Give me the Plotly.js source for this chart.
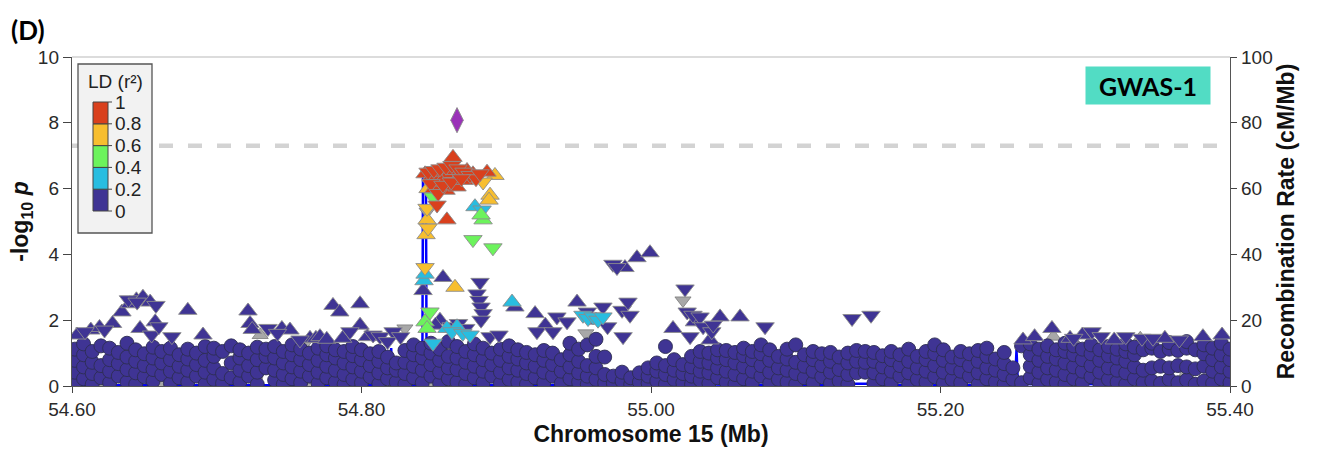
<!DOCTYPE html>
<html>
<head>
<meta charset="utf-8">
<script src="https://cdn.plot.ly/plotly-3.0.1.min.js"></script>
<style>
  html, body { margin: 0; padding: 0; background: #ffffff; }
  #chart { width: 1317px; height: 451px; }
</style>
</head>
<body>
<div id="chart"></div>
<script>
// ---- Regional association at chromosome 15, 54.60-55.40 Mb ----

// x axis ticks (Mb)
const xTicks = [54.60, 54.80, 55.00, 55.20, 55.40];
// LD colour key
const ldBreaks = [0, 0.2, 0.4, 0.6, 0.8, 1];
const ldTickLabels = ['0', '0.2', '0.4', '0.6', '0.8', '1'];
const ldColors = ['#3f3494', '#28bde0', '#6cf35c', '#f7be2f', '#d9401d'];
// r² assigned to each LD bin below
const ldBinR2 = [0.1, 0.3, 0.5, 0.7, 0.9];

// genome-wide significance, -log10(5e-8)
const gwsLine = 7.3;

// lead SNP
const leadPos = [54.866];
const leadLogP = [8.08];

// SNPs with r² < 0.2 plotted as circles: [position, [-log10 p, ...]]
const ld0Circles = [
  [54.602, [0.08, 0.42, 0.78, 1.12]], [54.608, [0.22, 0.58, 0.95, 1.28]],
  [54.614, [0.05, 0.38, 0.72, 1.05]], [54.620, [0.25, 0.62, 1.22]],
  [54.626, [0.10, 0.45, 0.80, 1.15]], [54.632, [0.30, 0.68, 1.02]],
  [54.638, [0.12, 0.50, 0.88, 1.30]], [54.644, [0.05, 0.40, 0.75, 1.10]],
  [54.650, [0.28, 0.62, 0.98]], [54.656, [0.15, 0.50, 0.85, 1.18]],
  [54.662, [0.35, 0.70, 1.05]], [54.668, [0.08, 0.45, 0.80, 1.15]],
  [54.674, [0.25, 0.60, 0.95]], [54.680, [0.12, 0.48, 0.82, 1.12]],
  [54.686, [0.30, 0.65, 1.00]], [54.692, [0.05, 0.42, 0.78, 1.20]],
  [54.698, [0.20, 0.55, 0.90, 1.15]], [54.704, [0.08, 0.38, 1.05]],
  [54.710, [0.25, 0.70, 1.22]], [54.716, [0.12, 0.48, 0.85, 1.10]],
  [54.722, [0.30, 0.62, 1.00]], [54.728, [0.05, 0.42, 0.80, 1.18]],
  [54.734, [0.55, 0.90, 1.12]], [54.740, [0.18, 0.48, 0.85, 1.20]],
  [54.746, [0.05, 0.35, 0.70, 1.05]], [54.752, [0.22, 0.58, 0.95, 1.25]],
  [54.758, [0.10, 0.45, 0.80, 1.12]], [54.764, [0.30, 0.65, 1.00]],
  [54.770, [0.08, 0.42, 0.78, 1.15]], [54.776, [0.25, 0.60, 0.95, 1.22]],
  [54.782, [0.12, 0.48, 0.85, 1.10]], [54.788, [0.05, 0.35, 0.70, 1.05]],
  [54.794, [0.20, 0.58, 0.92, 1.20]], [54.800, [0.10, 0.45, 0.80, 1.10]],
  [54.806, [0.28, 0.62, 0.98]], [54.812, [0.06, 0.40, 0.75, 1.05]],
  [54.818, [0.22, 0.55, 0.88]], [54.824, [0.12, 0.48, 0.70]],
  [54.830, [0.05, 0.38, 0.72, 1.08]], [54.836, [0.25, 0.60, 0.95, 1.25]],
  [54.842, [0.10, 0.48, 0.85, 1.15]], [54.848, [0.30, 0.65, 1.00, 1.30]],
  [54.854, [0.08, 0.42, 0.78, 1.12]], [54.860, [0.22, 0.55, 0.90, 1.35]],
  [54.866, [0.12, 0.50, 0.85, 1.20]], [54.872, [0.05, 0.38, 0.72, 1.05]],
  [54.878, [0.25, 0.60, 0.95, 1.28]], [54.884, [0.10, 0.45, 0.80, 1.15]],
  [54.890, [0.30, 0.65, 1.00]], [54.896, [0.08, 0.42, 0.78, 1.12]],
  [54.902, [0.20, 0.55, 0.90, 1.22]], [54.908, [0.12, 0.48, 0.82, 1.10]],
  [54.914, [0.05, 0.38, 0.70, 1.02]], [54.920, [0.25, 0.60, 0.95]],
  [54.926, [0.10, 0.42, 0.78, 1.08]], [54.932, [0.30, 0.65, 1.00]],
  [54.938, [0.08, 0.45, 0.80]], [54.944, [0.22, 0.58, 0.95, 1.30]],
  [54.950, [0.12, 0.40, 0.75, 1.12]], [54.956, [0.05, 0.30, 0.62, 1.25]],
  [54.962, [0.20, 0.55, 0.90, 1.42]], [54.968, [0.10, 0.35, 0.88]],
  [54.974, [0.08, 0.30]], [54.980, [0.15, 0.42]],
  [54.986, [0.05, 0.25]], [54.992, [0.12, 0.40]],
  [54.998, [0.08, 0.30, 0.55]], [55.004, [0.15, 0.45, 0.70]],
  [55.010, [0.05, 0.35, 0.62, 1.20]], [55.016, [0.20, 0.48, 0.80]],
  [55.022, [0.10, 0.38, 0.65]], [55.028, [0.05, 0.30, 0.58, 0.90]],
  [55.034, [0.18, 0.45, 0.75, 1.05]], [55.040, [0.08, 0.40, 0.70, 1.00]],
  [55.046, [0.25, 0.55, 0.85, 1.10]], [55.052, [0.12, 0.45, 0.80, 1.08]],
  [55.058, [0.05, 0.35, 0.70, 1.02]], [55.064, [0.22, 0.58, 0.92, 1.15]],
  [55.070, [0.10, 0.45, 0.80, 1.05]], [55.076, [0.30, 0.62, 0.98, 1.25]],
  [55.082, [0.08, 0.42, 0.78, 1.10]], [55.088, [0.20, 0.55, 0.90]],
  [55.094, [0.12, 0.48, 0.82, 1.12]], [55.100, [0.05, 0.38, 0.72, 1.25]],
  [55.106, [0.25, 0.60, 0.95]], [55.112, [0.10, 0.45, 0.80, 1.05]],
  [55.118, [0.28, 0.62, 0.98]], [55.124, [0.08, 0.42, 0.75, 1.02]],
  [55.130, [0.15, 0.50, 0.88]], [55.136, [0.05, 0.35, 0.70, 1.00]],
  [55.142, [0.40, 0.75, 1.08]], [55.148, [0.42, 0.72, 1.05]],
  [55.154, [0.08, 0.40, 0.75, 1.02]], [55.160, [0.22, 0.58, 0.92]],
  [55.166, [0.10, 0.45, 0.80, 1.05]], [55.172, [0.30, 0.62, 0.95]],
  [55.178, [0.05, 0.40, 0.75, 1.12]], [55.184, [0.20, 0.55, 0.90]],
  [55.190, [0.12, 0.45, 0.80, 1.05]], [55.196, [0.28, 0.62, 0.98, 1.25]],
  [55.202, [0.08, 0.42, 0.78, 1.10]], [55.208, [0.20, 0.55, 0.88]],
  [55.214, [0.10, 0.45, 0.80, 1.05]], [55.220, [0.30, 0.62, 0.98]],
  [55.226, [0.05, 0.40, 0.75, 1.08]], [55.232, [0.22, 0.55, 0.90, 1.15]],
  [55.238, [0.12, 0.48, 0.82]], [55.244, [0.05, 0.35, 0.68, 1.02]],
  [55.250, [0.20, 0.55]], [55.256, [0.10, 1.22]],
  [55.262, [0.25, 0.60, 0.95, 1.28]], [55.268, [0.08, 0.42, 0.78, 1.12]],
  [55.274, [0.20, 0.55, 0.90, 1.22]], [55.280, [0.12, 0.48, 0.82, 1.10]],
  [55.286, [0.05, 0.35, 0.70, 1.05, 1.30]], [55.292, [0.22, 0.58, 0.95, 1.22]],
  [55.298, [0.10, 0.45, 0.80, 1.12]], [55.304, [0.28, 0.62, 0.98, 1.25]],
  [55.310, [0.08, 0.42, 0.78, 1.10]], [55.316, [0.20, 0.55, 0.92, 1.20]],
  [55.322, [0.12, 0.48, 0.85, 1.12]], [55.328, [0.05, 0.40, 0.75, 1.05, 1.28]],
  [55.334, [0.22, 0.58, 0.95, 1.18]], [55.340, [0.10, 0.48, 1.10]],
  [55.346, [0.15, 0.55, 1.15, 1.30]], [55.352, [0.08, 0.60, 1.05]],
  [55.358, [0.20, 0.55, 1.12, 1.32]], [55.364, [0.10, 0.62, 1.08]],
  [55.370, [0.18, 0.58, 1.15, 1.35]], [55.376, [0.05, 0.52, 1.10]],
  [55.382, [0.15, 0.60, 0.98, 1.25]], [55.388, [0.08, 0.45, 0.80, 1.15]],
  [55.394, [0.22, 0.58, 0.95, 1.30]], [55.400, [0.10, 0.45, 0.80, 1.12]]
];

// triangles: up = positive effect, down = negative effect; [position, -log10 p]
const ld0Up = [
  [54.6035, 1.55], [54.613, 1.70], [54.619, 1.78], [54.628, 1.90], [54.6345, 2.25],
  [54.640, 2.50], [54.6445, 2.62], [54.649, 2.70], [54.654, 2.55], [54.647, 1.75],
  [54.6575, 1.95], [54.680, 2.30], [54.6905, 1.55], [54.7216, 2.28], [54.723, 1.90],
  [54.7245, 1.72], [54.745, 1.75], [54.7506, 1.70], [54.7644, 1.45], [54.7685, 1.45],
  [54.7713, 1.50], [54.776, 1.42], [54.7803, 2.45], [54.785, 2.25], [54.787, 1.45],
  [54.799, 2.50], [54.799, 1.85], [54.804, 1.50],
  [54.8425, 2.90], [54.8563, 3.30], [54.8542, 2.00], [54.8511, 1.85], [54.906, 2.40],
  [54.9199, 2.20], [54.9270, 1.85], [54.9489, 2.55], [54.9620, 2.00], [54.9820, 3.60],
  [54.9903, 3.90], [54.9993, 4.05], [55.0152, 1.75], [55.0300, 1.95], [55.0408, 1.40],
  [55.0477, 2.10], [55.0615, 2.10],
  [55.257, 1.40], [55.265, 1.50], [55.277, 1.75], [55.2895, 1.45], [55.298, 1.55],
  [55.320, 1.40], [55.355, 1.45], [55.3813, 1.50], [55.3945, 1.55]
];
const ld0Down = [
  [54.609, 1.65], [54.6225, 1.70], [54.639, 2.62], [54.645, 2.55], [54.658, 2.45],
  [54.655, 1.55], [54.669, 1.50], [54.660, 1.80], [54.7354, 1.75], [54.742, 1.60],
  [54.7575, 1.40], [54.792, 1.65], [54.808, 1.55], [54.8128, 1.50], [54.8218, 1.65],
  [54.818, 1.35], [54.827, 1.50],
  [54.8819, 3.15], [54.8798, 2.80], [54.8812, 2.60], [54.8826, 2.40], [54.884, 2.20],
  [54.8826, 2.00], [54.862, 1.80], [54.867, 1.90], [54.872, 1.75], [54.8888, 1.50],
  [54.895, 1.55], [54.9212, 1.65], [54.9323, 1.65], [54.935, 2.10], [54.942, 1.95],
  [54.956, 2.25], [54.9668, 2.40], [54.970, 1.80], [54.9737, 3.70], [54.9765, 3.60],
  [54.980, 2.30], [54.9807, 1.50], [54.9841, 2.55], [54.9855, 2.15],
  [55.0235, 2.95], [55.025, 2.25], [55.027, 1.50], [55.029, 2.15], [55.0339, 2.10],
  [55.036, 1.80], [55.042, 1.65], [55.043, 1.85], [55.0788, 1.80], [55.1389, 2.05],
  [55.152, 2.15],
  [55.292, 1.45], [55.3047, 1.65], [55.311, 1.50], [55.328, 1.50], [55.3392, 1.45],
  [55.3468, 1.45], [55.365, 1.40]
];
// 0.2 <= r² < 0.4
const ld1Up = [[54.8784, 5.45], [54.8432, 3.20], [54.8439, 3.40], [54.904, 2.55], [54.859, 1.75], [54.866, 1.80]];
const ld1Down = [
  [54.8833, 5.35], [54.8494, 1.30], [54.8625, 1.65], [54.870, 1.60], [54.875, 1.55],
  [54.953, 2.15], [54.9565, 2.05], [54.960, 2.10], [54.9634, 2.00], [54.9668, 2.10]
];
// 0.4 <= r² < 0.6
const ld2Up = [[54.884, 5.05], [54.8826, 5.20], [54.8439, 1.95], [54.8453, 1.75]];
const ld2Down = [[54.8494, 5.75], [54.877, 4.45], [54.8908, 4.20], [54.8473, 2.25]];
// 0.6 <= r² < 0.8
const ld3Up = [[54.8922, 6.40], [54.8888, 5.80], [54.8881, 5.65], [54.8453, 5.05], [54.8446, 4.60], [54.8646, 3.00], [54.846, 6.00]];
const ld3Down = [[54.884, 6.20], [54.846, 4.80], [54.8439, 3.60], [54.8453, 5.40]];
// r² >= 0.8
const ld4Up = [
  [54.8632, 6.95], [54.8439, 6.45], [54.848, 6.35], [54.8522, 6.40], [54.8563, 6.50],
  [54.8604, 6.45], [54.8646, 6.55], [54.8687, 6.45], [54.8729, 6.55], [54.877, 6.45],
  [54.8867, 6.50], [54.859, 5.05], [54.850, 6.00], [54.8584, 5.95], [54.866, 6.05],
  [54.871, 6.25], [54.855, 6.20]
];
const ld4Down = [
  [54.846, 6.50], [54.850, 6.55], [54.8542, 6.60], [54.8584, 6.65], [54.8625, 6.70],
  [54.8667, 6.60], [54.8708, 6.50], [54.875, 6.40], [54.8791, 6.30], [54.8819, 6.45],
  [54.848, 6.15], [54.853, 5.85], [54.8563, 6.10], [54.862, 6.20], [54.869, 6.30],
  [54.8522, 5.50]
];

// SNPs without LD information
const noLdCircles = [
  [54.618, 0.15], [54.648, 0.60], [54.660, 0.05], [54.716, 0.90], [54.727, 0.30],
  [54.763, 0.10], [54.800, 0.20], [54.818, 0.15], [54.848, 0.20], [54.860, 0.10],
  [54.875, 0.75], [54.945, 0.50], [54.990, 0.20], [55.008, 0.10], [55.050, 0.50],
  [55.060, 0.80], [55.110, 0.65], [55.190, 0.10], [55.205, 0.35], [55.240, 0.70],
  [55.268, 0.45], [55.290, 0.90], [55.310, 0.15], [55.370, 0.30], [55.395, 0.20],
  [55.398, 1.10]
];
const noLdUp = [[54.730, 1.55], [55.278, 1.50], [55.338, 1.45]];
const noLdDown = [[54.830, 1.75], [54.8453, 5.30], [55.0221, 2.60], [54.955, 1.60], [54.762, 1.35]];

// recombination rate (cM/Mb)
const recombPos = [
  54.600, 54.650, 54.700, 54.750, 54.800, 54.8195, 54.8205, 54.8215, 54.842, 54.8425,
  54.8445, 54.845, 54.864, 54.8648, 54.8656, 54.900, 54.950, 55.000, 55.030, 55.050,
  55.130, 55.140, 55.150, 55.160, 55.2515, 55.2525, 55.2535, 55.280, 55.330, 55.360,
  55.3975, 55.398, 55.400
];
const recombRate = [
  0.2, 0.15, 0.25, 0.2, 0.3, 0.3, 11.5, 0.4, 0.4, 65,
  65, 0.3, 0.3, 11, 0.3, 0.25, 0.3, 0.5, 0.6, 0.4,
  0.3, 0.7, 0.7, 0.3, 0.4, 11, 0.6, 0.5, 0.6, 0.7,
  0.5, 11, 11
];

// ---------- build traces ----------
const AXIS_FONT = 'Liberation Sans, Arial, sans-serif';
const LABEL_FONT = 'Lato, Carlito, Calibri, sans-serif';
const GRAY = '#a8a8a8';

// discrete colour scale from the LD bins
const ldScale = [];
ldColors.forEach((c, i) => {
  ldScale.push([ldBreaks[i], c]);
  ldScale.push([ldBreaks[i + 1], c]);
});

const pts = { x: [], y: [], c: [], sym: [], line: [] };
function addPoints(list, r2, symbol, lineColor) {
  list.forEach(([p, v]) => {
    pts.x.push(p); pts.y.push(v); pts.c.push(r2);
    pts.sym.push(symbol); pts.line.push(lineColor);
  });
}
const CIRCLE_LINE = '#2e2e52';
const TRI_LINE = '#8c8c8c';

// points without LD sit underneath the rest
const grayPts = { x: [], y: [], sym: [] };
noLdCircles.forEach(([p, v]) => { grayPts.x.push(p); grayPts.y.push(v); grayPts.sym.push('circle'); });
noLdUp.forEach(([p, v]) => { grayPts.x.push(p); grayPts.y.push(v); grayPts.sym.push('triangle-up'); });
noLdDown.forEach(([p, v]) => { grayPts.x.push(p); grayPts.y.push(v); grayPts.sym.push('triangle-down'); });

ld0Circles.forEach(([p, vals]) => vals.forEach(v => addPoints([[p, v]], ldBinR2[0], 'circle', CIRCLE_LINE)));
addPoints(ld0Up, ldBinR2[0], 'triangle-up', TRI_LINE);
addPoints(ld0Down, ldBinR2[0], 'triangle-down', TRI_LINE);
addPoints(ld1Up, ldBinR2[1], 'triangle-up', TRI_LINE);
addPoints(ld1Down, ldBinR2[1], 'triangle-down', TRI_LINE);
addPoints(ld2Up, ldBinR2[2], 'triangle-up', TRI_LINE);
addPoints(ld2Down, ldBinR2[2], 'triangle-down', TRI_LINE);
addPoints(ld3Up, ldBinR2[3], 'triangle-up', TRI_LINE);
addPoints(ld3Down, ldBinR2[3], 'triangle-down', TRI_LINE);
addPoints(ld4Up, ldBinR2[4], 'triangle-up', TRI_LINE);
addPoints(ld4Down, ldBinR2[4], 'triangle-down', TRI_LINE);

const sizes = pts.sym.map(s => (s === 'circle' ? 14 : 16));

const traces = [
  {
    // recombination rate on the right-hand axis, drawn beneath the SNPs
    type: 'scatter', mode: 'lines', x: recombPos, y: recombRate, yaxis: 'y',
    line: { color: '#0000ff', width: 2.5 }, hoverinfo: 'skip', showlegend: false
  },
  {
    type: 'scatter', mode: 'markers', x: grayPts.x, y: grayPts.y, yaxis: 'y2',
    marker: { symbol: grayPts.sym, size: 14, color: GRAY, opacity: 1,
      line: { color: '#7a7a7a', width: 0.8 } },
    hoverinfo: 'skip', showlegend: false
  },
  {
    type: 'scatter', mode: 'markers', x: pts.x, y: pts.y, yaxis: 'y2',
    marker: {
      symbol: pts.sym, size: sizes, color: pts.c, opacity: 1,
      colorscale: ldScale, cmin: 0, cmax: 1, showscale: false,
      line: { color: pts.line, width: 0.9 }
    },
    hoverinfo: 'skip', showlegend: false
  },
  {
    type: 'scatter', mode: 'markers', x: leadPos, y: leadLogP, yaxis: 'y2',
    marker: { symbol: 'diamond-tall', size: 18, color: '#9a32b8', opacity: 1,
      line: { color: '#8a8a8a', width: 0.9 } },
    hoverinfo: 'skip', showlegend: false
  }
];

// ---------- layout ----------
const L = 72, R = 1230, T = 57, B = 386;
const px = v => (v - L) / (R - L);
const py = v => (B - v) / (B - T);

const shapes = [
  { type: 'line', xref: 'paper', yref: 'paper', x0: 0, x1: 1, y0: 1, y1: 1,
    line: { color: '#d0d0d0', width: 1.5 } },
  { type: 'line', xref: 'paper', yref: 'y2', x0: 0, x1: 1, y0: gwsLine, y1: gwsLine,
    line: { color: '#d3d3d3', width: 4.5, dash: '14px,15px' } },
  // LD key box
  { type: 'rect', xref: 'paper', yref: 'paper', x0: px(78), x1: px(152), y0: py(233), y1: py(64),
    fillcolor: '#f2f2f2', line: { color: '#555555', width: 1.3 } }
];
const annotations = [];

const barTop = 102, barBot = 211, barL = 93, barR = 108;
const seg = (barBot - barTop) / ldColors.length;
ldColors.forEach((c, i) => {
  const yb = barBot - i * seg, yt = barBot - (i + 1) * seg;
  shapes.push({ type: 'rect', xref: 'paper', yref: 'paper', x0: px(barL), x1: px(barR), y0: py(yb), y1: py(yt),
    fillcolor: c, line: { color: '#444444', width: 1 } });
});
ldTickLabels.forEach((t, i) => {
  const y = barBot - i * seg;
  shapes.push({ type: 'line', xref: 'paper', yref: 'paper', x0: px(barR), x1: px(barR + 4), y0: py(y), y1: py(y),
    line: { color: '#444444', width: 1 } });
  annotations.push({ xref: 'paper', yref: 'paper', x: px(barR + 5), y: py(y), xanchor: 'left', yanchor: 'middle',
    text: t, showarrow: false, font: { family: AXIS_FONT, size: 19, color: '#222222' } });
});
annotations.push({ xref: 'paper', yref: 'paper', x: px(115), y: py(81), xanchor: 'center', yanchor: 'middle',
  text: 'LD (r²)', showarrow: false, font: { family: AXIS_FONT, size: 19, color: '#222222' } });

annotations.push({ xref: 'paper', yref: 'paper', x: px(9), y: py(30), xanchor: 'left', yanchor: 'middle',
  text: '<b>(D)</b>', showarrow: false, font: { family: LABEL_FONT, size: 26, color: '#000000' } });
annotations.push({ xref: 'paper', yref: 'paper', x: px(1148), y: py(85.5), xanchor: 'center', yanchor: 'middle',
  text: '<b>GWAS-1</b>', showarrow: false, width: 124, height: 37, borderpad: 0,
  bgcolor: '#52dcc4', font: { family: LABEL_FONT, size: 25, color: '#000000' } });

const tickFont = { family: AXIS_FONT, size: 19, color: '#2a2a2a' };
const titleFont = { family: AXIS_FONT, size: 23, color: '#111111' };

const layout = {
  width: 1317, height: 451,
  margin: { l: L, r: 1317 - R, t: T, b: 451 - B, pad: 0 },
  paper_bgcolor: '#ffffff', plot_bgcolor: '#ffffff',
  showlegend: false,
  xaxis: {
    range: [54.6, 55.4], tickvals: xTicks, tickformat: '.2f',
    ticks: 'outside', ticklen: 6, tickcolor: '#444444',
    showline: true, linecolor: '#555555', linewidth: 1.2,
    showgrid: false, zeroline: false, tickfont: tickFont,
    title: { text: '<b>Chromosome 15 (Mb)</b>', font: titleFont, standoff: 6 },
    automargin: false
  },
  yaxis: {
    side: 'right', range: [0, 100], tickvals: [0, 20, 40, 60, 80, 100],
    ticks: 'outside', ticklen: 6, tickcolor: '#444444',
    showline: true, linecolor: '#555555', linewidth: 1.2,
    showgrid: false, zeroline: false, tickfont: tickFont,
    title: { text: '<b>Recombination Rate (cM/Mb)</b>', font: titleFont, standoff: 2 },
    automargin: false
  },
  yaxis2: {
    overlaying: 'y', side: 'left', range: [0, 10], tickvals: [0, 2, 4, 6, 8, 10],
    ticks: 'outside', ticklen: 8, tickcolor: '#444444',
    showline: true, linecolor: '#555555', linewidth: 1.2,
    showgrid: false, zeroline: false, tickfont: tickFont,
    title: { text: '<b>-log<sub>10</sub> <i>p</i></b>', font: titleFont, standoff: 2 },
    automargin: false
  },
  shapes: shapes,
  annotations: annotations
};

Plotly.newPlot('chart', traces, layout, { displayModeBar: false, staticPlot: true });
</script>
</body>
</html>
